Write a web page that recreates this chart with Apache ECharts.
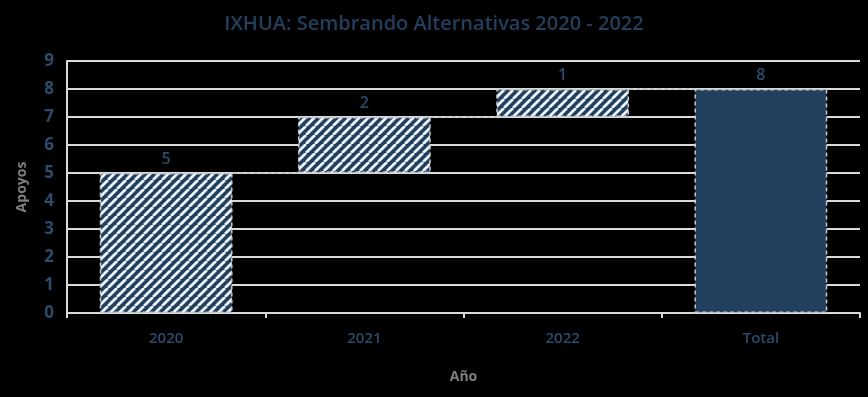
<!DOCTYPE html>
<html>
<head>
<meta charset="utf-8">
<script src="https://cdn.jsdelivr.net/npm/echarts@6/dist/echarts.min.js"></script>
<style>
  html, body { margin: 0; padding: 0; background: #000; }
  #chart { width: 868px; height: 397px; }
</style>
</head>
<body>
<div id="chart"></div>
<script>
  'use strict'

  var categories = ['2020', '2021', '2022', 'Total'];
  var baseValues = [0, 5, 7, 0];
  var stepValues = [5, 2, 1, 8];
  var yTicks = [0, 9, 1];

  var navy = '#233f5e';

  // diagonal stripe pattern
  function stripes() {
    var n = 9;
    var c = document.createElement('canvas');
    c.width = n; c.height = n;
    var ctx = c.getContext('2d');
    ctx.fillStyle = navy;
    ctx.fillRect(0, 0, n, n);
    ctx.strokeStyle = '#eef6ff';
    ctx.lineWidth = 2.8;
    ctx.beginPath();
    for (var k = -n; k <= 2 * n; k += n) {
      ctx.moveTo(k, n);
      ctx.lineTo(k + n, 0);
    }
    ctx.stroke();
    return c;
  }
  var pattern = { image: stripes(), repeat: 'repeat' };

  var barData = stepValues.map(function (v, i) {
    return {
      value: v,
      itemStyle: i === stepValues.length - 1 ? { color: navy } : { color: pattern }
    };
  });

  var connectors = [];
  for (var i = 0; i < stepValues.length - 1; i++) {
    connectors.push([i, baseValues[i] + stepValues[i]]);
  }

  var chart = echarts.init(document.getElementById('chart'));
  chart.setOption({
    backgroundColor: '#000',
    animation: false,
    title: {
      text: 'IXHUA: Sembrando Alternativas 2020 - 2022',
      left: 'center',
      top: 9,
      textStyle: { color: navy, fontSize: 20, fontWeight: 600, fontFamily: 'Open Sans' }
    },
    grid: { left: 67, right: 8, top: 61, bottom: 84 },
    xAxis: {
      type: 'category',
      data: categories,
      name: 'Año',
      nameLocation: 'middle',
      nameGap: 57,
      nameTextStyle: { color: '#7f7f7f', fontWeight: 'bold', fontSize: 14, fontFamily: 'Open Sans' },
      axisLine: { lineStyle: { color: '#d9d9d9', width: 2 } },
      axisTick: { show: true, length: 5, lineStyle: { color: '#d9d9d9', width: 2 } },
      axisLabel: { color: '#2c4b6b', fontSize: 15, fontWeight: 600, margin: 18, fontFamily: 'Open Sans' }
    },
    yAxis: {
      type: 'value',
      min: yTicks[0],
      max: yTicks[1],
      interval: yTicks[2],
      name: 'Apoyos',
      nameLocation: 'middle',
      nameGap: 38,
      nameTextStyle: { color: '#7f7f7f', fontWeight: 'bold', fontSize: 14, fontFamily: 'Open Sans' },
      axisLine: { show: true, lineStyle: { color: '#d9d9d9', width: 2 } },
      axisTick: { show: false },
      splitLine: { lineStyle: { color: '#d9d9d9', width: 2 } },
      axisLabel: { color: '#2c4b6b', fontSize: 17, fontWeight: 'bold', margin: 13, fontFamily: 'Open Sans' }
    },
    series: [
      {
        name: 'base',
        type: 'bar',
        stack: 'w',
        barWidth: '67%',
        silent: true,
        itemStyle: { color: 'transparent' },
        data: baseValues
      },
      {
        name: 'Apoyos',
        type: 'bar',
        stack: 'w',
        barWidth: '67%',
        itemStyle: { borderColor: '#c8c8c8', borderWidth: 1.5, borderType: [4, 3] },
        label: {
          show: true,
          position: 'top',
          distance: 6,
          color: '#2c4b6b',
          fontSize: 16,
          fontWeight: 600,
          fontFamily: 'Open Sans'
        },
        data: barData
      },
      {
        type: 'custom',
        silent: true,
        z: 1,
        renderItem: function (params, api) {
          var x = api.value(0);
          var y = api.value(1);
          var half = api.size([1, 0])[0] * 0.67 / 2;
          var p1 = api.coord([x, y]);
          var p2 = api.coord([x + 1, y]);
          return {
            type: 'line',
            shape: { x1: p1[0] + half, y1: p1[1], x2: p2[0] - half, y2: p2[1] },
            style: { stroke: '#bfbfbf', lineWidth: 1.5, lineDash: [4, 3] }
          };
        },
        data: connectors
      }
    ]
  });
</script>
</body>
</html>
